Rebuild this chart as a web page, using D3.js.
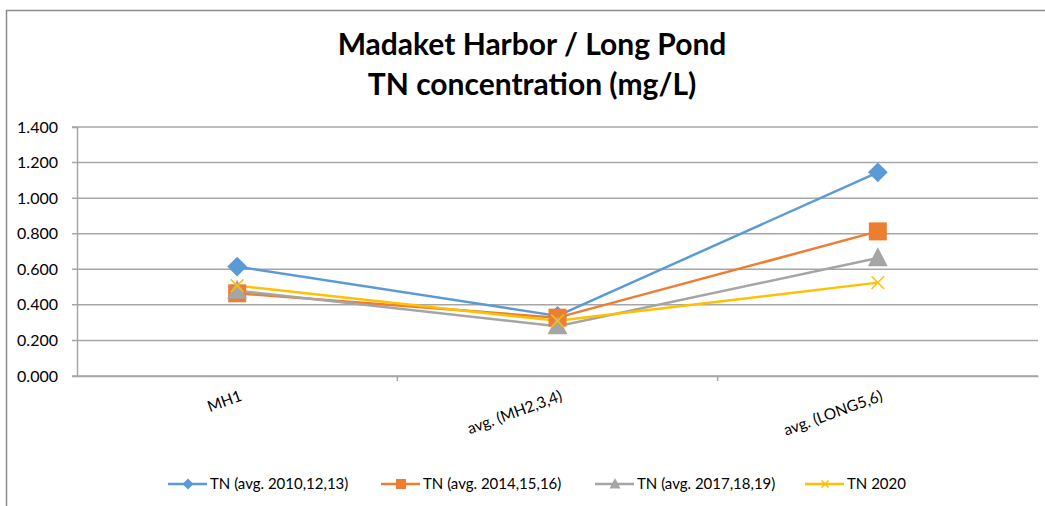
<!DOCTYPE html>
<html>
<head>
<meta charset="utf-8">
<script src="https://cdn.jsdelivr.net/npm/d3@7"></script>
<style>
  body { margin: 0; background: #fff; }
  text { font-family: Lato, "Open Sans", sans-serif; fill: #000; }
</style>
</head>
<body>
<svg id="chart" width="1045" height="506"></svg>
<script>
// data
const categories = ['MH1', 'avg. (MH2,3,4)', 'avg. (LONG5,6)'];
const seriesNames = ['TN (avg. 2010,12,13)', 'TN (avg. 2014,15,16)', 'TN (avg. 2017,18,19)', 'TN 2020'];
const tn2010 = [0.615, 0.338, 1.145];
const tn2014 = [0.465, 0.328, 0.813];
const tn2017 = [0.480, 0.280, 0.663];
const tn2020 = [0.508, 0.310, 0.525];
const yTicks = [0, 0.2, 0.4, 0.6, 0.8, 1.0, 1.2, 1.4];

const colors = ['#5B9BD5', '#ED7D31', '#A5A5A5', '#FFC000'];
const symbols = ['diamond', 'square', 'triangle', 'x'];
const allSeries = [tn2010, tn2014, tn2017, tn2020];

const svg = d3.select('#chart');

// chart frame
svg.append('rect')
  .attr('x', 6.5).attr('y', 10.5)
  .attr('width', 1100).attr('height', 600)
  .attr('fill', 'none').attr('stroke', '#8c8c8c').attr('stroke-width', 1.5);

const plot = { left: 77, right: 1038, top: 127, bottom: 376 };

const x = d3.scaleBand().domain(categories).range([plot.left, plot.right]);
const y = d3.scaleLinear().domain([0, 1.4]).range([plot.bottom, plot.top]);

// title
svg.append('text')
  .attr('x', 532).attr('y', 55)
  .attr('text-anchor', 'middle')
  .style('font-size', '30px').style('font-weight', 'bold')
  .text('Madaket Harbor / Long Pond');
svg.append('text')
  .attr('x', 532).attr('y', 95)
  .attr('text-anchor', 'middle')
  .style('font-size', '30px').style('font-weight', 'bold')
  .text('TN concentration (mg/L)');

// gridlines
svg.append('g')
  .selectAll('line')
  .data(yTicks)
  .join('line')
  .attr('x1', plot.left - 5).attr('x2', plot.right)
  .attr('y1', d => y(d)).attr('y2', d => y(d))
  .attr('stroke', '#a6a6a6').attr('stroke-width', 1.5);

// y axis
const yAxis = svg.append('g')
  .attr('transform', `translate(${plot.left},0)`)
  .call(d3.axisLeft(y).tickValues(yTicks).tickFormat(d3.format('.3f')).tickSize(5).tickPadding(14));
yAxis.select('.domain').attr('stroke', '#a6a6a6').attr('stroke-width', 1.5);
yAxis.selectAll('.tick line').attr('stroke', 'none');
yAxis.selectAll('text').style('font-size', '16px').style('font-family', 'Lato, "Open Sans", sans-serif');

// x axis
const xAxis = svg.append('g')
  .attr('transform', `translate(0,${plot.bottom})`)
  .call(d3.axisBottom(x).tickSize(0).tickFormat(''));
xAxis.select('.domain').attr('stroke', '#a6a6a6').attr('stroke-width', 1.5);
// category boundary ticks
svg.append('g')
  .selectAll('line')
  .data(categories.slice(1))
  .join('line')
  .attr('x1', d => x(d)).attr('x2', d => x(d))
  .attr('y1', plot.bottom).attr('y2', plot.bottom + 5)
  .attr('stroke', '#a6a6a6').attr('stroke-width', 1.5);

svg.append('g')
  .selectAll('text')
  .data(categories)
  .join('text')
  .attr('transform', d => `translate(${x(d) + x.bandwidth() / 2 + 2},${plot.bottom + 14}) rotate(-20)`)
  .attr('text-anchor', 'end')
  .attr('dy', '0.7em')
  .style('font-size', '15.5px')
  .text(d => d);

// marker drawing
function drawMarker(g, type, color, size) {
  if (type === 'diamond') {
    const h = size * 0.55;
    g.append('path').attr('d', `M0,${-h}L${h},0L0,${h}L${-h},0Z`)
      .attr('fill', color);
  } else if (type === 'square') {
    g.append('rect').attr('x', -size / 2).attr('y', -size / 2)
      .attr('width', size).attr('height', size).attr('fill', color);
  } else if (type === 'triangle') {
    g.append('path')
      .attr('d', `M0,${-size * 0.6}L${size * 0.55},${size * 0.45}L${-size * 0.55},${size * 0.45}Z`)
      .attr('fill', color);
  } else {
    const h = size * 0.35;
    g.append('path').attr('d', `M${-h},${-h}L${h},${h}M${-h},${h}L${h},${-h}`)
      .attr('stroke', color).attr('stroke-width', 1.5).attr('fill', 'none');
  }
}

const line = d3.line()
  .x((d, i) => x(categories[i]) + x.bandwidth() / 2)
  .y(d => y(d));

allSeries.forEach((vals, s) => {
  svg.append('path')
    .datum(vals)
    .attr('d', line)
    .attr('fill', 'none')
    .attr('stroke', colors[s])
    .attr('stroke-width', 2.5)
    .attr('stroke-linejoin', 'round');
});

allSeries.forEach((vals, s) => {
  vals.forEach((v, i) => {
    const g = svg.append('g')
      .attr('transform', `translate(${x(categories[i]) + x.bandwidth() / 2},${y(v)})`);
    drawMarker(g, symbols[s], colors[s], 18);
  });
});

// legend
const legendX = [168, 381, 595, 805];
const legendY = 484;
seriesNames.forEach((name, s) => {
  const g = svg.append('g').attr('transform', `translate(${legendX[s]},${legendY})`);
  g.append('line').attr('x1', 0).attr('x2', 39).attr('y1', 0).attr('y2', 0)
    .attr('stroke', colors[s]).attr('stroke-width', 2.5);
  const m = g.append('g').attr('transform', 'translate(20,0)');
  drawMarker(m, symbols[s], colors[s], 10);
  g.append('text').attr('x', 42).attr('y', 0).attr('dy', '0.35em')
    .style('font-size', '15px')
    .text(name);
});
</script>
</body>
</html>
